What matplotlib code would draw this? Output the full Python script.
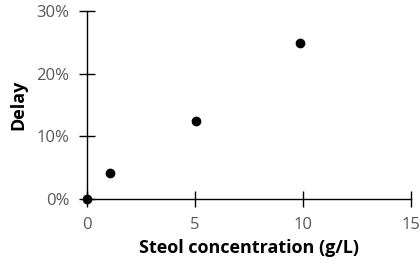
import matplotlib
matplotlib.use("Agg")
import matplotlib.pyplot as plt
from matplotlib.ticker import FuncFormatter

# data
conc = [0, 1.05, 5.05, 9.85]          # g/L
delay = [0.0, 0.042, 0.124, 0.249]     # fraction

x_ticks = [0, 5, 10, 15]
y_ticks = [0, 0.1, 0.2, 0.3]

plt.rcParams['font.family'] = ['Open Sans', 'DejaVu Sans']

fig = plt.figure(figsize=(4.2, 2.72), dpi=100)
ax = fig.add_axes([0.207, 0.268, 0.771, 0.692])

ax.scatter(conc, delay, s=36, color='black', zorder=5, clip_on=False)

ax.set_xlim(0, 15)
ax.set_ylim(0, 0.30)
ax.set_xticks(x_ticks)
ax.set_yticks(y_ticks)
ax.yaxis.set_major_formatter(FuncFormatter(lambda v, p: f"{v*100:.0f}%"))

for s in ['top', 'right']:
    ax.spines[s].set_visible(False)
for s in ['left', 'bottom']:
    ax.spines[s].set_linewidth(1.0)
    ax.spines[s].set_color('black')

ax.tick_params(axis='both', direction='inout', length=11, width=1.0,
               color='black', labelsize=12, labelcolor='#595959')
ax.tick_params(axis='x', pad=7.5)
ax.tick_params(axis='y', pad=7)

ax.set_xlabel('Steol concentration (g/L)', fontsize=13, fontweight='bold')
ax.set_ylabel('Delay', fontsize=13, fontweight='bold')
ax.xaxis.set_label_coords(0.5, -0.21)
ax.yaxis.set_label_coords(-0.185, 0.5)

fig.savefig('out.png', dpi=100)
